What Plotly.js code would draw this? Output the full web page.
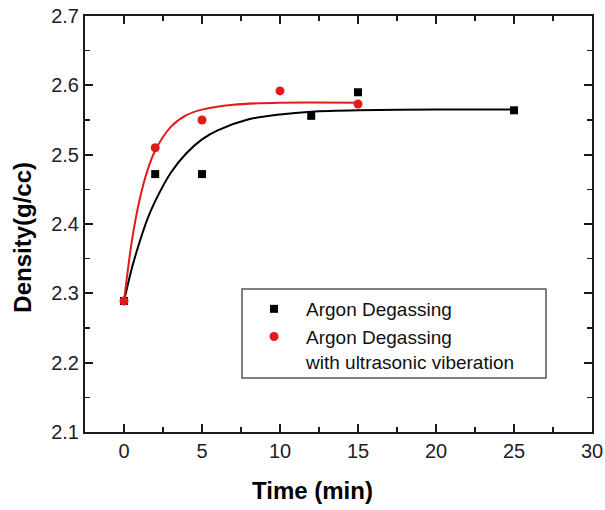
<!DOCTYPE html>
<html>
<head>
<meta charset="utf-8">
<script src="https://cdn.plot.ly/plotly-3.0.1.min.js"></script>
<style>html,body{margin:0;padding:0;background:#fff;}#chart{width:605px;height:510px;}</style>
</head>
<body>
<div id="chart"></div>
<script>
// Measured points
var timeArgon = [0, 2, 5, 12, 15, 25];
var densityArgon = [2.289, 2.472, 2.472, 2.556, 2.590, 2.564];
var timeUltra = [0, 2, 5, 10, 15];
var densityUltra = [2.289, 2.510, 2.550, 2.592, 2.573];

// Fitted curves
var fitTimeArgon = [0, 0.5, 1, 1.5, 2, 3, 4, 5, 6, 8, 10, 12, 15, 20, 25];
var fitDensityArgon = [2.289, 2.336, 2.374, 2.407, 2.433, 2.474, 2.502, 2.522, 2.535, 2.551, 2.558, 2.562, 2.564, 2.565, 2.565];
var fitTimeUltra = [0, 0.5, 1, 1.5, 2, 3, 4, 5, 7, 10, 15];
var fitDensityUltra = [2.289, 2.375, 2.435, 2.477, 2.506, 2.540, 2.557, 2.565, 2.572, 2.575, 2.575];

var seriesNames = ["Argon Degassing", "Argon Degassing<br>with ultrasonic viberation"];
var xTitle = "Time (min)";
var yTitle = "Density(g/cc)";

var RED = "#e31a1c";
var FONT = "Liberation Sans, Arial, sans-serif";

var traces = [
  {x: fitTimeArgon, y: fitDensityArgon, mode: "lines", line: {color: "#000", width: 2, shape: "spline", smoothing: 0.8}, showlegend: false, hoverinfo: "skip"},
  {x: fitTimeUltra, y: fitDensityUltra, mode: "lines", line: {color: RED, width: 2, shape: "spline", smoothing: 0.8}, showlegend: false, hoverinfo: "skip"},
  {x: timeArgon, y: densityArgon, mode: "markers", name: seriesNames[0], marker: {symbol: "square", size: 8, color: "#000"}},
  {x: timeUltra, y: densityUltra, mode: "markers", name: seriesNames[1], marker: {symbol: "circle", size: 9, color: RED}}
];

var axisCommon = {
  showline: true, mirror: "ticks", linecolor: "#1a1a1a", linewidth: 2,
  ticks: "inside", ticklen: 8, tickwidth: 2, tickcolor: "#1a1a1a",
  showgrid: false, zeroline: false,
  tickfont: {family: FONT, size: 20, color: "#222"}
};

var layout = {
  width: 605, height: 510,
  margin: {l: 85, r: 13, t: 16, b: 78},
  paper_bgcolor: "#fff", plot_bgcolor: "#fff",
  font: {family: FONT, color: "#000"},
  xaxis: Object.assign({}, axisCommon, {
    range: [-2.5, 30], dtick: 5, tick0: 0,
    minor: {ticks: "inside", ticklen: 5, tickwidth: 1.5, tickcolor: "#1a1a1a", dtick: 2.5, showgrid: false}
  }),
  yaxis: Object.assign({}, axisCommon, {
    range: [2.1, 2.7], dtick: 0.1, tick0: 2.1, tickformat: ".1f",
    minor: {ticks: "inside", ticklen: 5, tickwidth: 1.5, tickcolor: "#1a1a1a", dtick: 0.05, showgrid: false}
  }),
  showlegend: true,
  legend: {
    x: 0.3097, y: 0.3414, xanchor: "left", yanchor: "top",
    bgcolor: "rgba(0,0,0,0)", borderwidth: 0,
    font: {family: FONT, size: 19, color: "#111"},
    itemwidth: 54, valign: "top", tracegroupgap: 0
  },
  shapes: [
    {type: "rect", xref: "paper", yref: "paper", x0: 0.3097, x1: 0.9093, y0: 0.1298, y1: 0.3438,
     line: {color: "#555", width: 1.5}, fillcolor: "rgba(0,0,0,0)", layer: "below"}
  ],
  annotations: [
    {text: "<b>" + xTitle + "</b>", xref: "paper", yref: "paper", x: 0.4497, y: -0.1418,
     xanchor: "center", yanchor: "middle", showarrow: false, font: {family: FONT, size: 24, color: "#000"}},
    {text: "<b>" + yTitle + "</b>", xref: "paper", yref: "paper", x: -0.1223, y: 0.4695, textangle: -90,
     xanchor: "center", yanchor: "middle", showarrow: false, font: {family: FONT, size: 24, color: "#000"}}
  ]
};

Plotly.newPlot("chart", traces, layout, {displayModeBar: false, staticPlot: true});
</script>
</body>
</html>
